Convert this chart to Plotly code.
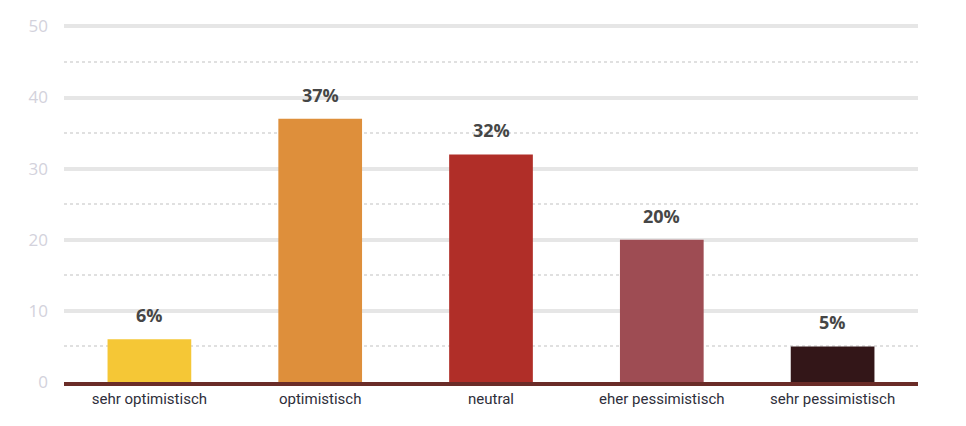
import plotly.graph_objects as go

categories = ["sehr optimistisch", "optimistisch", "neutral", "eher pessimistisch", "sehr pessimistisch"]
values = [6, 37, 32, 20, 5]
labels = ["6%", "37%", "32%", "20%", "5%"]
colors = ["#f5c736", "#de8f3b", "#b02e28", "#9e4c53", "#331618"]
y_ticks = [0, 10, 20, 30, 40, 50]

fig = go.Figure()
fig.add_trace(go.Bar(
    x=categories, y=values, marker=dict(color=colors, line=dict(width=0)),
    width=0.49, hoverinfo="skip",
))

for c, v, t in zip(categories, values, labels):
    fig.add_annotation(x=c, y=v, text=f"<b>{t}</b>", showarrow=False,
                       yanchor="bottom", yshift=10,
                       font=dict(family="Open Sans", size=18, color="#464646"))

fig.update_layout(
    width=950, height=410,
    margin=dict(l=56, r=40, t=17, b=36, autoexpand=False),
    paper_bgcolor="white", plot_bgcolor="white",
    showlegend=False,
    xaxis=dict(
        type="category", showgrid=False, showline=True, linecolor="#6a2c28", linewidth=4,
        ticks="", tickfont=dict(family="Roboto", size=15, color="#2e2e3a"),
        fixedrange=True, automargin=False,
    ),
    yaxis=dict(
        range=[0, 50.2], tickvals=y_ticks, showgrid=True, gridcolor="#e6e6e6", gridwidth=3.5,
        zeroline=False, showline=False, ticks="",
        tickfont=dict(family="Open Sans", size=17, color="#d3d2dc"),
        ticklabelstandoff=15, automargin=False,
        minor=dict(dtick=5, showgrid=True, gridcolor="#e0e0e0", gridwidth=2, griddash="dot"),
        fixedrange=True,
    ),
)

fig.write_html("out.html")
